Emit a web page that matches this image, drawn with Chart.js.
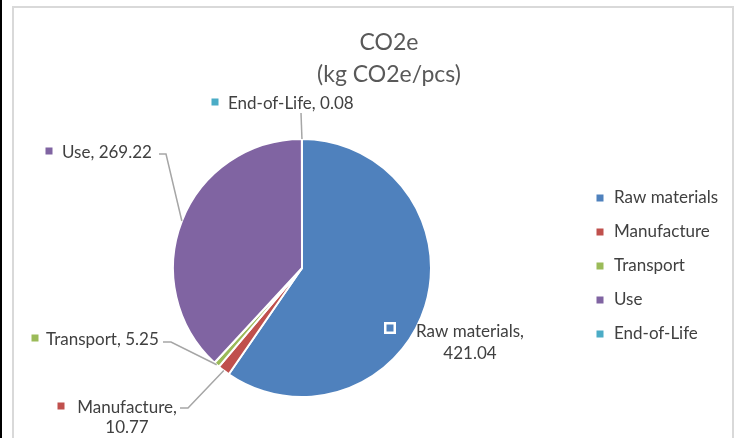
<!DOCTYPE html>
<html>
<head>
<meta charset="utf-8">
<script src="https://cdn.jsdelivr.net/npm/chart.js@4.4.0/dist/chart.umd.min.js"></script>
<style>
  html, body { margin: 0; padding: 0; background: #fff; width: 742px; height: 438px; overflow: hidden; }
  #wrap { position: relative; width: 742px; height: 438px; }
  #strip { position: absolute; left: 0; top: 0; width: 2px; height: 438px; background: #000; }
  #frame { position: absolute; left: 12px; top: 6px; width: 722px; height: 450px; border: 2px solid #d9d9d9; box-sizing: border-box; pointer-events: none; }
  canvas { position: absolute; left: 0; top: 0; }
</style>
</head>
<body>
<div id="wrap">
  <canvas id="c" width="742" height="438"></canvas>
  <div id="frame"></div>
  <div id="strip"></div>
</div>
<script>
const categories = ["Raw materials", "Manufacture", "Transport", "Use", "End-of-Life"];
const values = [421.04, 10.77, 5.25, 269.22, 0.08];
const valueLabels = ["421.04", "10.77", "5.25", "269.22", "0.08"];
const colors = ["#4F81BD", "#C0504D", "#9BBB59", "#8064A2", "#4BACC6"];
const titleLines = ["CO2e", "(kg CO2e/pcs)"];

const FONT = "Lato, 'Open Sans', sans-serif";
const TEXT = "#404040";

// label layout: lines of text, anchor of text, leader elbow
const labelLayout = [
  { lines: ["Raw materials,", "421.04"], x: 470, y: 332, lh: 22, align: "center", marker: { x: 390, y: 328, hollow: true }, leader: null },
  { lines: ["Manufacture,", "10.77"], x: 127, y: 408, lh: 20, align: "center", marker: { x: 61, y: 406 }, leader: [180, 408, 188, 408] },
  { lines: ["Transport, 5.25"], x: 46, y: 340, lh: 20, align: "left", marker: { x: 35, y: 338 }, leader: [163, 342, 171, 342] },
  { lines: ["Use, 269.22"], x: 62, y: 153, lh: 20, align: "left", marker: { x: 49, y: 151 }, leader: [159, 154, 166, 154] },
  { lines: ["End-of-Life, 0.08"], x: 228, y: 104, lh: 20, align: "left", marker: { x: 215, y: 102 }, leader: [301, 113, 301, 113] }
];

const legendPos = { x: 600, y0: 198, dy: 34 };

const decor = {
  id: "decor",
  afterDraw(chart) {
    const ctx = chart.ctx;
    ctx.save();
    // title
    ctx.fillStyle = "#595959";
    ctx.font = "23px " + FONT;
    ctx.textAlign = "center";
    ctx.textBaseline = "middle";
    ctx.fillText(titleLines[0], 389, 43);
    ctx.fillText(titleLines[1], 389, 75);

    const meta = chart.getDatasetMeta(0);
    // leader lines
    ctx.strokeStyle = "#a6a6a6";
    ctx.lineWidth = 1.5;
    meta.data.forEach((arc, i) => {
      const L = labelLayout[i];
      if (!L.leader) return;
      const mid = (arc.startAngle + arc.endAngle) / 2;
      const px = arc.x + Math.cos(mid) * arc.outerRadius;
      const py = arc.y + Math.sin(mid) * arc.outerRadius;
      ctx.beginPath();
      ctx.moveTo(L.leader[0], L.leader[1]);
      ctx.lineTo(L.leader[2], L.leader[3]);
      ctx.lineTo(px, py);
      ctx.stroke();
    });

    // labels
    ctx.font = "17px " + FONT;
    ctx.textBaseline = "middle";
    labelLayout.forEach((L, i) => {
      const m = L.marker;
      if (m.hollow) {
        ctx.fillStyle = "#ffffff";
        ctx.fillRect(m.x - 6, m.y - 6, 12, 12);
        ctx.fillStyle = colors[i];
        ctx.fillRect(m.x - 3.5, m.y - 3.5, 7, 7);
      } else {
        ctx.fillStyle = colors[i];
        ctx.fillRect(m.x - 3.5, m.y - 3.5, 7, 7);
      }
      ctx.fillStyle = TEXT;
      ctx.textAlign = L.align;
      L.lines.forEach((t, k) => ctx.fillText(t, L.x, L.y + k * L.lh));
    });

    // legend
    ctx.textAlign = "left";
    categories.forEach((c, i) => {
      const y = legendPos.y0 + i * legendPos.dy;
      ctx.fillStyle = colors[i];
      ctx.fillRect(legendPos.x - 3.5, y - 3.5, 7, 7);
      ctx.fillStyle = TEXT;
      ctx.fillText(c, legendPos.x + 14, y);
    });
    ctx.restore();
  }
};

new Chart(document.getElementById("c"), {
  type: "pie",
  data: {
    labels: categories,
    datasets: [{
      data: values,
      backgroundColor: colors,
      borderColor: "#ffffff",
      borderWidth: 2
    }]
  },
  options: {
    responsive: false,
    animation: false,
    devicePixelRatio: 1,
    layout: { padding: { top: 138, bottom: 40, left: 172, right: 310 } },
    plugins: { legend: { display: false }, title: { display: false }, tooltip: { enabled: false } }
  },
  plugins: [decor]
});
</script>
</body>
</html>
